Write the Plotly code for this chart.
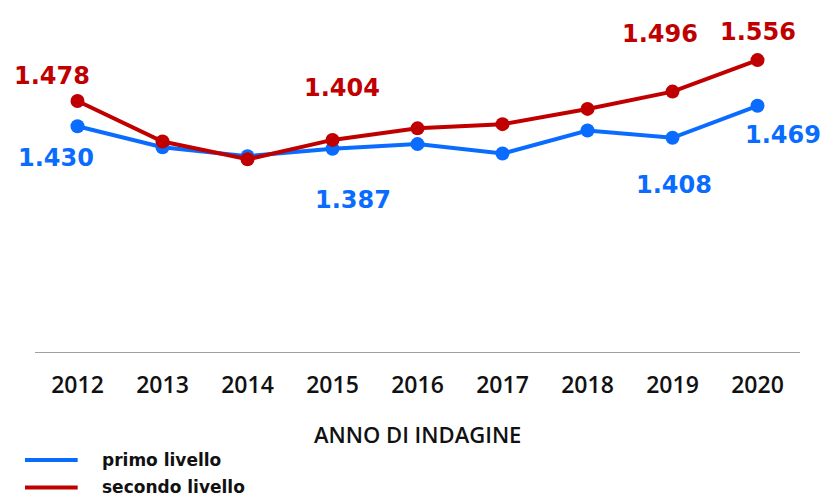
import plotly.graph_objects as go

years = ["2012", "2013", "2014", "2015", "2016", "2017", "2018", "2019", "2020"]
series_names = ["primo livello", "secondo livello"]
primo = [1430, 1390, 1373, 1387, 1396, 1378, 1422, 1408, 1469]
secondo = [1478, 1401, 1367, 1404, 1426, 1434, 1463, 1496, 1556]
labelled_idx = [0, 3, 7, 8]
x_title = "ANNO DI INDAGINE"

BLUE = "#0a6cff"
RED = "#c00000"

fig = go.Figure()
for name, vals, col in [(series_names[0], primo, BLUE), (series_names[1], secondo, RED)]:
    fig.add_trace(go.Scatter(
        x=years, y=vals, name=name, mode="lines+markers",
        line=dict(color=col, width=4),
        marker=dict(color=col, size=14),
        showlegend=False, hoverinfo="x+y",
    ))

def fmt(v):
    return f"{v:,}".replace(",", ".")

red_off = {0: (-26, 25), 3: (9, 52), 7: (-13, 58), 8: (0, 28)}
blue_off = {0: (-22, -32), 3: (20, -51), 7: (1, -47), 8: (25, -29)}

annotations = []
for vals, col, offs in [(secondo, RED, red_off), (primo, BLUE, blue_off)]:
    for i in labelled_idx:
        dx, dy = offs[i]
        annotations.append(dict(
            x=i, y=vals[i], xref="x", yref="y", text=fmt(vals[i]),
            showarrow=False, xanchor="center", yanchor="middle",
            xshift=dx, yshift=dy,
            font=dict(family="DejaVu Sans", size=24, color=col, weight="bold"),
        ))

# axis title
annotations.append(dict(
    x=0.5, y=-0.259, xref="paper", yref="paper", text=x_title, showarrow=False,
    xanchor="center", yanchor="middle",
    font=dict(family="Open Sans", size=22, color="#111111", weight=600),
))

# custom legend
shapes = []
leg_y = [-0.343, -0.430]
for name, col, yy in zip(series_names, [BLUE, RED], leg_y):
    shapes.append(dict(type="line", xref="paper", yref="paper",
                       x0=-0.0131, x1=0.0558, y0=yy, y1=yy,
                       line=dict(color=col, width=4)))
    annotations.append(dict(
        x=0.085, y=yy, xref="paper", yref="paper", text=name, showarrow=False,
        xanchor="left", yanchor="middle",
        font=dict(family="DejaVu Sans", size=17, color="#111111", weight="bold"),
    ))

fig.update_layout(
    width=822, height=497,
    margin=dict(l=35, r=22, t=37, b=145),
    paper_bgcolor="white", plot_bgcolor="white",
    xaxis=dict(
        type="category", range=[-0.5, 8.5],
        showline=True, linecolor="#a0a0a0", linewidth=1,
        showgrid=False, zeroline=False,
        ticks="outside", ticklen=12, tickcolor="rgba(0,0,0,0)",
        tickfont=dict(family="Open Sans", size=23, color="#111111", weight=600),
    ),
    yaxis=dict(range=[1000, 1600], visible=False, showgrid=False, zeroline=False),
    annotations=annotations,
    shapes=shapes,
)

fig.write_html(
    "out.html",
    config={"displayModeBar": False},
    post_script="document.body.style.margin='0';document.body.style.overflow='hidden';",
)
